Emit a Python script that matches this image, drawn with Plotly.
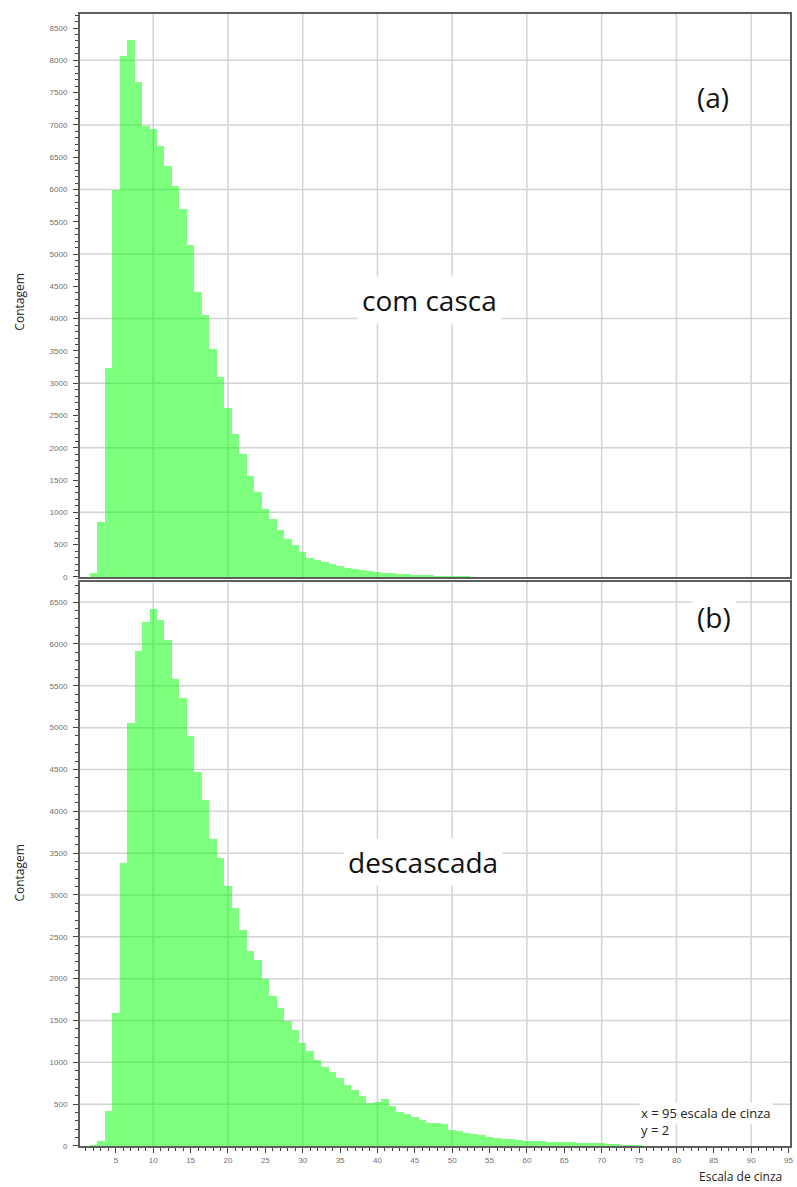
import plotly.graph_objects as go

# escala de cinza (centro de cada classe, largura 1)
niveis = list(range(1, 96))

# (a) com casca
contagem_com_casca = [
    0, 60, 850, 3240, 5990, 8070, 8310, 7670, 6980, 6940,
    6675, 6365, 6055, 5690, 5135, 4420, 4050, 3530, 3090, 2620,
    2220, 1910, 1570, 1310, 1057, 900, 726, 592, 494, 390,
    300, 270, 235, 195, 170, 145, 125, 105, 90, 78,
    68, 58, 50, 42, 36, 30, 25, 20, 16, 13,
    10, 8, 6, 5, 4, 3, 3, 2, 2, 1,
    0, 0, 0, 0, 0, 0, 0, 0, 0, 0,
    0, 0, 0, 0, 0, 0, 0, 0, 0, 0,
    0, 0, 0, 0, 0, 0, 0, 0, 0, 0,
    0, 0, 0, 0, 0,
]

# (b) descascada
contagem_descascada = [
    0, 10, 60, 420, 1590, 3380, 5050, 5920, 6260, 6415,
    6285, 6050, 5580, 5350, 4895, 4475, 4135, 3670, 3445, 3105,
    2845, 2586, 2331, 2228, 2000, 1790, 1650, 1492, 1384, 1225,
    1137, 1026, 946, 887, 808, 728, 668, 597, 517, 529,
    557, 477, 410, 378, 342, 310, 280, 272, 264, 191,
    183, 159, 139, 131, 111, 99, 88, 80, 72, 64,
    60, 56, 52, 48, 44, 43, 40, 36, 34, 30,
    26, 20, 16, 12, 8, 5, 4, 3, 3, 2,
    2, 2, 2, 2, 2, 2, 2, 2, 2, 2,
    2, 2, 2, 2, 2,
]

grade_x = [10, 20, 30, 40, 50, 60, 70, 80, 90]
grade_y_a = [1000, 2000, 3000, 4000, 5000, 6000, 7000, 8000]
grade_y_b = [500 * i for i in range(1, 14)]

verde = 'rgba(0,255,0,0.5)'
cinza_grade = 'rgb(212,212,212)'
cinza_eixo = '#5e5e5e'
fonte_tick = dict(family='Arial', size=8, color='#707070')

fig = go.Figure()
fig.add_trace(go.Bar(x=niveis, y=contagem_com_casca, width=1, marker=dict(color=verde, line=dict(width=0)),
                     xaxis='x', yaxis='y', showlegend=False))
fig.add_trace(go.Bar(x=niveis, y=contagem_descascada, width=1, marker=dict(color=verde, line=dict(width=0)),
                     xaxis='x2', yaxis='y2', showlegend=False))

# linhas de grade
formas = []
for ref_x, ref_y, gy in (('x', 'y', grade_y_a), ('x2', 'y2', grade_y_b)):
    for v in gy:
        formas.append(dict(type='line', layer='below', xref=ref_x + ' domain', yref=ref_y,
                           x0=0, x1=1, y0=v, y1=v, line=dict(color=cinza_grade, width=1.5)))
    for v in grade_x:
        formas.append(dict(type='line', layer='below', xref=ref_x, yref=ref_y + ' domain',
                           x0=v, x1=v, y0=0, y1=1, line=dict(color=cinza_grade, width=1.5)))

eixo_x = dict(range=[0.2, 95.2], showgrid=False, zeroline=False, showline=True, linecolor=cinza_eixo,
              linewidth=2, mirror=True)
eixo_y = dict(showgrid=False, zeroline=False, showline=True, linecolor=cinza_eixo, linewidth=2, mirror=True,
              dtick=500, tick0=0, ticks='outside', ticklen=5, tickcolor='#444444', tickfont=fonte_tick,
              ticklabelstandoff=4,
              minor=dict(dtick=100, ticks='outside', ticklen=3, tickcolor='#444444'))

fig.update_layout(
    width=797, height=1187,
    margin=dict(l=80, r=4, t=14, b=41),
    plot_bgcolor='white', paper_bgcolor='white',
    bargap=0,
    shapes=formas,
    xaxis=dict(eixo_x, anchor='y', showticklabels=False, ticks=''),
    yaxis=dict(eixo_y, domain=[0.5027, 1], range=[0, 8717], anchor='x'),
    xaxis2=dict(eixo_x, anchor='y2', dtick=5, tick0=0, ticks='outside', ticklen=5, tickcolor='#444444',
                tickfont=fonte_tick,
                minor=dict(dtick=1, ticks='outside', ticklen=3, tickcolor='#444444')),
    yaxis2=dict(eixo_y, domain=[0, 0.4982], range=[0, 6740], anchor='x2'),
)

anot = [
    dict(text='(a)', x=0.892, y=0.9267),
    dict(text='com casca', x=0.4923, y=0.7473),
    dict(text='(b)', x=0.8934, y=0.4673),
    dict(text='descascada', x=0.4825, y=0.2509),
]
for a in anot:
    fig.add_annotation(text=a['text'], xref='paper', yref='paper', x=a['x'], y=a['y'],
                       xanchor='center', yanchor='middle', showarrow=False,
                       font=dict(family='Open Sans', size=28, color='#111111'),
                       bgcolor='white', borderpad=4)

fig.add_annotation(text='x = 95 escala de cinza', xref='paper', yref='paper', x=0.788, y=0.0292,
                   xanchor='left', yanchor='middle', showarrow=False, bgcolor='white',
                   font=dict(family='Open Sans', size=13, color='#222222'))
fig.add_annotation(text='y = 2', xref='paper', yref='paper', x=0.788, y=0.0141,
                   xanchor='left', yanchor='middle', showarrow=False, bgcolor='white',
                   font=dict(family='Open Sans', size=13, color='#222222'))
fig.add_annotation(text='Escala de cinza', xref='paper', yref='paper', x=0.93, y=-0.0272,
                   xanchor='center', yanchor='middle', showarrow=False,
                   font=dict(family='Open Sans', size=12, color='#222222'))
for yy in (0.7456, 0.2412):
    fig.add_annotation(text='Contagem', xref='paper', yref='paper', x=-0.085, y=yy, textangle=-90,
                       xanchor='center', yanchor='middle', showarrow=False,
                       font=dict(family='Open Sans', size=12, color='#222222'))

fig.write_html('out.html', config={'displayModeBar': False},
               post_script="document.body.style.margin='0px';")
